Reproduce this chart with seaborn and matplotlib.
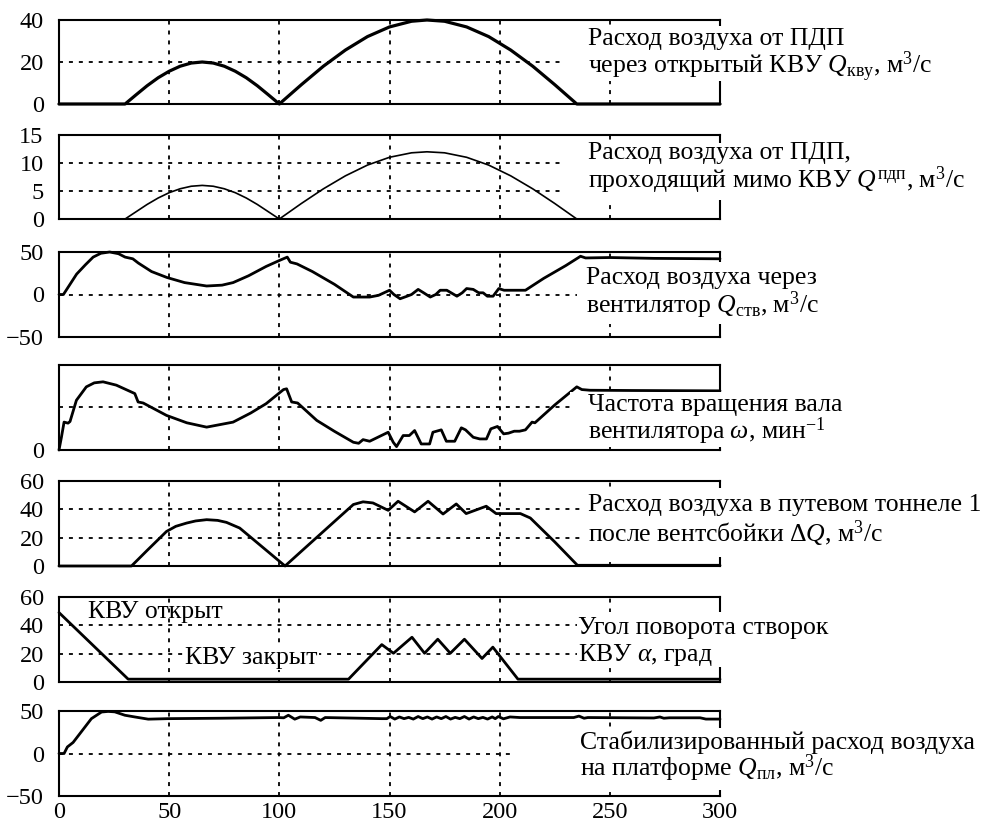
import numpy as np
import pandas as pd
import matplotlib
matplotlib.use("Agg")
import matplotlib.pyplot as plt
from matplotlib.patches import Rectangle
import seaborn as sns

# ---------------- data ----------------
x_ticks = [0, 50, 100, 150, 200, 250, 300]

# 1: Q_kvu
x1 = [0, 30, 35, 40, 45, 50, 55, 60, 65, 70, 75, 80, 85, 90, 95, 100,
      110, 120, 130, 140, 150, 160, 167, 175, 185, 195, 205, 215, 225, 235, 300]
y1 = [0, 0, 4.4, 8.7, 12.5, 15.6, 18.0, 19.5, 20, 19.5, 18.0, 15.6, 12.5, 8.7, 4.4, 0,
      9.2, 18.0, 25.7, 32.1, 36.7, 39.4, 40, 39.4, 36.7, 32.1, 25.7, 18.0, 9.2, 0, 0]

# 2: Q_pdp
x2 = x1
y2 = [0, 0, 1.3, 2.6, 3.75, 4.7, 5.4, 5.85, 6, 5.85, 5.4, 4.7, 3.75, 2.6, 1.3, 0,
      2.77, 5.39, 7.71, 9.63, 11.02, 11.82, 12, 11.82, 11.02, 9.63, 7.71, 5.39, 2.77, 0, 0]

# 3: Q_stv
x3 = [0, 2, 5, 8, 12, 15.5, 19, 23, 27, 30, 33.5, 36, 42, 49, 57, 67, 74, 79, 86, 94,
      100, 103.6, 105, 108, 115, 125, 133.6, 141, 145, 150, 152, 154.8, 158, 160, 163,
      165.5, 168.5, 171, 173, 176, 180.6, 183, 185, 188, 190.5, 192.5, 194.4, 197, 199.6,
      202, 206, 211.7, 220, 230, 236.7, 239, 250, 270, 300]
y3 = [0, 0, 12, 24, 35, 44, 48.5, 50, 48, 44, 42, 37, 27, 20, 14, 10, 11, 14, 22, 33,
      40, 44, 38, 36, 27, 12, -3, -3, -1, 5, 0, -5, -2, 0, 6,
      2, -3, 0, 5, 5, -2, 2, 7, 6, 2, 2, -2, -2, 7,
      5, 5, 5, 19, 34, 45, 43, 43.5, 42.5, 42]

# 4: omega (arbitrary units, 0..1000)
x4 = [0, 1.1, 2.3, 4.1, 5, 7.9, 12.4, 16, 20, 26, 34.4, 35.9, 38.2, 48.8, 58, 67, 79, 87,
      94, 101.9, 103.3, 105.6, 108.3, 117, 125, 133.6, 136, 138, 141, 149.4, 151.7, 153.2,
      156.2, 159, 161.4, 164.4, 168.2, 169.7, 173.5, 175.8, 179.6, 182.6, 184.5, 188, 191,
      194, 196, 199, 201.8, 204, 206.6, 209, 211.7, 214.7, 216, 225, 235, 237.3, 241, 260, 300]
y4 = [0, 150, 328, 316, 335, 585, 743, 790, 802, 763, 664, 565, 553, 407, 320, 269, 328, 435,
      545, 711, 720, 565, 553, 348, 220, 91, 79, 122, 103, 209, 91, 40,
      170, 170, 229, 71, 71, 209, 237, 103, 103, 261, 237, 150, 130,
      130, 249, 277, 190, 198, 221, 221, 237, 328, 320, 530, 743, 711, 703, 700, 696]

# 5: delta Q
x5 = [0, 32.9, 40, 48.8, 53, 57.9, 62, 67, 72, 76, 82, 90, 96, 102.6, 110, 120, 128, 133.6,
      138, 142.5, 149.4, 153.9, 161.4, 167.5, 174.3, 180.3, 184.8, 193.9, 198.4, 209.4,
      213.9, 225, 235.3, 300]
y5 = [0, 0, 11, 24.4, 28, 30.3, 31.8, 32.7, 32.2, 30.8, 26.8, 16.4, 8.6, 0, 10.4, 24.4, 35.6, 43.4,
      45.3, 44.5, 39.3, 45.7, 38.2, 45.7, 36.7, 43.8, 37, 42.2, 37, 37,
      33.9, 17, 0.5, 0.5]

# 6: alpha
x6 = [0, 31.4, 131.4, 146.5, 151.8, 160.2, 165.9, 171.9, 177.6, 184, 192, 196.9, 208.3, 300]
y6 = [49, 2, 2, 26.4, 20.3, 31.6, 20.3, 30.2, 20.3, 30.2, 16.6, 24.6, 2, 2]

# 7: Q_pl
x7 = [0, 2.3, 3.8, 6.4, 10.2, 14.7, 19.3, 22.3, 25.3, 29.9, 34.4, 40.5, 49.5, 73.8, 99.5,
      102, 104.1, 107, 109.5, 116.2, 118.8, 120.8, 146.5, 148.8,
      150.3, 152.4, 154.5, 156.6, 158.7, 160.8, 163, 165.1, 167.2, 169.3, 171.4, 173.5,
      175.6, 177.7, 179.8, 181.9, 184, 186.1, 188.2, 190.3, 192.4, 194.5, 196.6, 198,
      199.4, 201.7, 204.7, 209.2, 233.6, 236, 238.3, 240, 270, 272.7, 274.5, 277, 291,
      293.6, 300]
y7 = [0, 0, 7.7, 13, 25.8, 41, 48.8, 49.5, 49, 45, 43, 40.4, 41, 41.5, 42.3,
      42, 45, 40.4, 43, 42.3, 39, 42.3, 41, 41,
      43.5, 40.5, 43, 41, 42.5, 40.5, 43.5, 41, 43, 40.5, 43, 41,
      43.5, 40.5, 42.5, 41, 43.5, 40.5, 43, 41, 42.5, 40.5, 43, 41,
      43.5, 40.8, 43, 42.3, 42.3, 44, 41.5, 42.3, 41.8, 43, 41.5, 42, 42,
      40.5, 40.5]

# ---------------- style ----------------
sns.set_theme(style="white")
plt.rcParams["font.family"] = ["Liberation Serif", "DejaVu Serif"]
plt.rcParams["mathtext.fontset"] = "custom"
plt.rcParams["mathtext.rm"] = "Liberation Serif"
plt.rcParams["mathtext.it"] = "Liberation Serif:italic"
plt.rcParams["mathtext.bf"] = "Liberation Serif:bold"
plt.rcParams["axes.unicode_minus"] = True

W, H = 999, 825
fig = plt.figure(figsize=(W / 100, H / 100), dpi=100)
fig.patch.set_facecolor("white")

LEFT, RIGHT = 59, 720
panels_px = [(20, 104), (135, 219), (252, 337), (365, 450), (481, 566), (597, 682), (711, 796)]

series = [
    (x1, y1, 2.3, (0, 40), [0, 20, 40], None),
    (x2, y2, 1.2, (0, 15), [0, 5, 10, 15], None),
    (x3, y3, 2.0, (-50, 50), [-50, 0, 50], None),
    (x4, y4, 2.0, (0, 1000), [0, 500], ["0", ""]),
    (x5, y5, 2.0, (0, 60), [0, 20, 40, 60], None),
    (x6, y6, 2.0, (0, 60), [0, 20, 40, 60], None),
    (x7, y7, 2.0, (-50, 50), [-50, 0, 50], None),
]

TICK_FS = 17.5
LABEL_FS = 18.5
grid_ls = (0, (2.2, 3.3))

axes = []
for i, ((top, bot), (xs, ys, lw, ylim, yt, ytl)) in enumerate(zip(panels_px, series)):
    ax = fig.add_axes([LEFT / W, 1 - bot / H, (RIGHT - LEFT) / W, (bot - top) / H])
    df = pd.DataFrame({"t": xs, "v": ys})
    sns.lineplot(data=df, x="t", y="v", ax=ax, color="black", linewidth=lw,
                 sort=False, estimator=None, clip_on=False, zorder=3)
    ax.set_xlim(0, 300)
    ax.set_ylim(*ylim)
    ax.set_xticks(x_ticks)
    ax.set_yticks(yt)
    if ytl is not None:
        ax.set_yticklabels(ytl)
    ax.set_xlabel("")
    ax.set_ylabel("")
    if i < 6:
        ax.set_xticklabels([])
    ax.tick_params(axis="both", length=0, labelsize=TICK_FS, colors="black")
    ax.tick_params(axis="y", pad=11)
    ax.tick_params(axis="x", pad=4)
    ax.grid(True, color="black", linestyle=grid_ls, linewidth=1.3)
    for s in ax.spines.values():
        s.set_visible(True)
        s.set_color("black")
        s.set_linewidth(1.5)
    ax.set_facecolor("white")
    axes.append(ax)

# white label boxes (px: x0, y0, x1, y1)
boxes = [(560, 26, 999, 81), (560, 143, 999, 200), (577, 262, 999, 324),
         (570, 392, 999, 447), (585, 488, 999, 557), (577, 612, 999, 667),
         (510, 728, 999, 790)]
for x0, y0, x1b, y1b in boxes:
    fig.add_artist(Rectangle((x0 / W, 1 - y1b / H), (x1b - x0) / W, (y1b - y0) / H,
                             transform=fig.transFigure, facecolor="white",
                             edgecolor="none", zorder=5))

labels = [
    (588, 45, "Расход воздуха от ПДП"),
    (588, 73, "через открытый КВУ $Q_{\\mathrm{кву}}$, м$^{3}$/с"),
    (588, 159, "Расход воздуха от ПДП,"),
    (588, 188, "проходящий мимо КВУ $Q^{\\mathrm{пдп}}$, м$^{3}$/с"),
    (586, 284, "Расход воздуха через"),
    (586, 313, "вентилятор $Q_{\\mathrm{ств}}$, м$^{3}$/с"),
    (588, 411, "Частота вращения вала"),
    (588, 439, "вентилятора $\\omega$, мин$^{-1}$"),
    (588, 511, "Расход воздуха в путевом тоннеле 1"),
    (588, 542, "после вентсбойки $\\Delta Q$, м$^{3}$/с"),
    (578, 634, "Угол поворота створок"),
    (578, 661, "КВУ $\\alpha$, град"),
    (580, 749, "Стабилизированный расход воздуха"),
    (580, 776, "на платформе $Q_{\\mathrm{пл}}$, м$^{3}$/с"),
]
for x, y, s in labels:
    fig.text(x / W, 1 - y / H, s, fontsize=LABEL_FS, ha="left", va="baseline",
             color="black", zorder=6)

fig.text(88 / W, 1 - 618 / H, "КВУ открыт", fontsize=LABEL_FS, ha="left",
         va="baseline", color="black", zorder=6)
fig.text(185 / W, 1 - 664 / H, "КВУ закрыт", fontsize=LABEL_FS, ha="left",
         va="baseline", color="black", zorder=6,
         bbox=dict(facecolor="white", edgecolor="none", pad=1.0))

fig.savefig("out.png", dpi=100, facecolor="white")
